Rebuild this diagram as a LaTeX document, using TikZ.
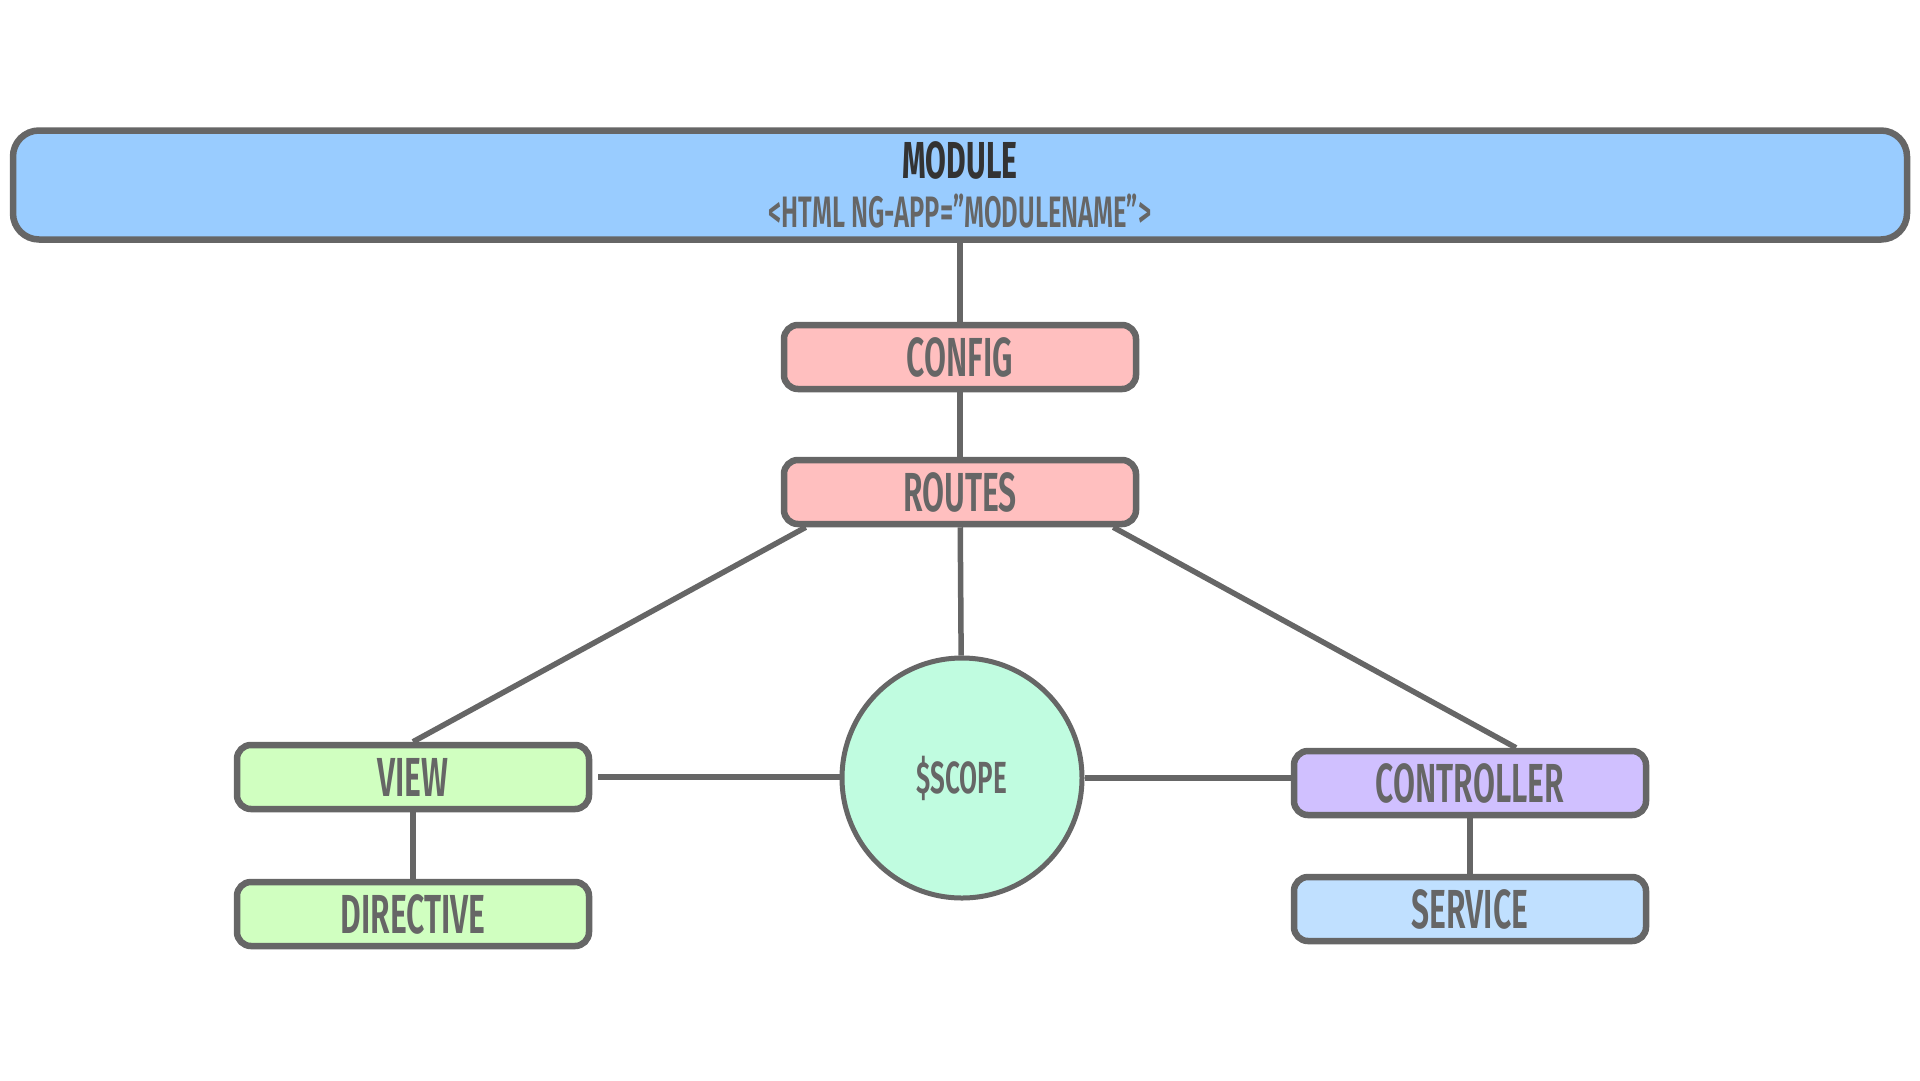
\documentclass[tikz,border=0pt]{standalone}
\usepackage{fontspec}
\newfontfamily\condfont[FakeStretch=0.58]{Fira Sans}[UprightFont=* SemiBold,BoldFont=* Bold]
\usetikzlibrary{positioning}

\definecolor{edgegray}{HTML}{666666}
\definecolor{modblue}{HTML}{99CCFF}
\definecolor{routepink}{HTML}{FFBFBF}
\definecolor{viewgreen}{HTML}{D0FFC0}
\definecolor{scopemint}{HTML}{C0FCE0}
\definecolor{ctrlpurple}{HTML}{D0C0FF}
\definecolor{servblue}{HTML}{C0E0FF}

\begin{document}
\begin{tikzpicture}[x=1pt,y=-1pt,
  box/.style={draw=edgegray,line width=6.5pt,rounded corners=14pt,minimum width=352pt,minimum height=64pt,
    text=edgegray,font=\condfont\fontsize{55}{55}\selectfont},
  link/.style={draw=edgegray,line width=5.5pt}]
\useasboundingbox (0,0) rectangle (1920,1080);
\node[box,fill=modblue,minimum width=1894pt,minimum height=109pt,rounded corners=26pt,align=center]
  (module) at (960,185) {{\bfseries\color[HTML]{333333}\fontsize{52}{52}\selectfont MODULE}\\[-6pt]
  {\fontsize{44}{44}\selectfont <HTML NG-APP=”MODULENAME”>}};
\node[box,fill=routepink] (config) at (960,357) {CONFIG};
\node[box,fill=routepink] (routes) at (960,492) {ROUTES};
\node[draw=edgegray,line width=5pt,circle,fill=scopemint,minimum size=240pt,text=edgegray,
  font=\condfont\fontsize{45}{45}\selectfont] (scope) at (962,778) {\$SCOPE};
\node[box,fill=viewgreen] (view) at (413,777) {VIEW};
\node[box,fill=viewgreen] (directive) at (413,914) {DIRECTIVE};
\node[box,fill=ctrlpurple] (controller) at (1470,783) {CONTROLLER};
\node[box,fill=servblue] (service) at (1470,909) {SERVICE};
\draw[link] (module) -- (config);
\draw[link] (config) -- (routes);
\draw[link] (routes) -- (scope);
\draw[link] ([xshift=25pt]routes.south west) -- (view.north);
\draw[link] ([xshift=-26pt]routes.south east) -- ([xshift=46pt]controller.north);
\draw[link] ([xshift=6pt]view.east) -- (view.east -| scope.west);
\draw[link] (scope.east) -- (scope.east -| controller.west);
\draw[link] (view) -- (directive);
\draw[link] (controller) -- (service);
\end{tikzpicture}
\end{document}
